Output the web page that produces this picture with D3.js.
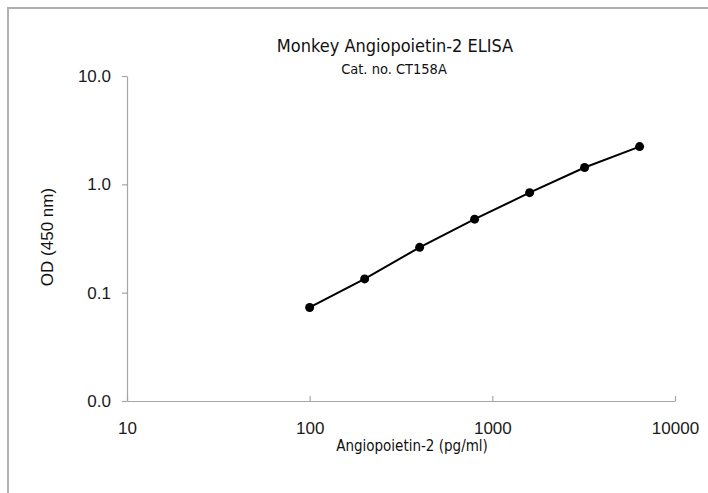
<!DOCTYPE html>
<html>
<head>
<meta charset="utf-8">
<script src="https://cdnjs.cloudflare.com/ajax/libs/d3/7.8.5/d3.min.js"></script>
<style>
  body { margin: 0; background: #fff; }
  .tick text { font-family: "Liberation Sans", Arial, sans-serif; font-size: 17px; fill: #1a1a1a; }
  .label { font-family: "DejaVu Sans Condensed", "DejaVu Sans", sans-serif; fill: #111; }
</style>
</head>
<body>
<div id="chart"></div>
<script>
// standard curve data
var concentrations = [100, 200, 400, 800, 1600, 3200, 6400];
var odValues = [0.073, 0.134, 0.262, 0.477, 0.838, 1.43, 2.23];
var xTicks = [10, 100, 1000, 10000];
var yTicks = [0.01, 0.1, 1, 10];

var svgWidth = 708, svgHeight = 493;
var margin = {top: 76, right: 33, bottom: 92, left: 127},
    width = svgWidth - margin.left - margin.right,
    height = svgHeight - margin.top - margin.bottom;

var svg = d3.select("#chart").append("svg")
    .attr("width", svgWidth)
    .attr("height", svgHeight);

// outer frame (top and left only visible)
svg.append("path")
    .attr("d", "M8," + svgHeight + "V8H" + svgWidth)
    .attr("fill", "none")
    .attr("stroke", "#b0b0b0")
    .attr("stroke-width", 2);

var g = svg.append("g")
    .attr("transform", "translate(" + margin.left + "," + margin.top + ")");

// set the ranges
var x = d3.scaleLog().domain([10, 10000]).range([0, width]);
var y = d3.scaleLog().domain([0.01, 10]).range([height, 0]);

// x axis
var xAxis = g.append("g")
    .attr("transform", "translate(0," + height + ")")
    .call(d3.axisBottom(x)
        .tickValues(xTicks)
        .tickFormat(d3.format("d"))
        .tickSizeOuter(0)
        .tickPadding(15));

// y axis
var yAxis = g.append("g")
    .call(d3.axisLeft(y)
        .tickValues(yTicks)
        .tickFormat(function(d) { return d3.format(".1f")(d); })
        .tickSizeOuter(0)
        .tickPadding(10));

g.selectAll(".domain").attr("stroke", "#a6a6a6").attr("stroke-width", 1.2);
g.selectAll(".tick line").attr("stroke", "#a6a6a6").attr("stroke-width", 1.2);
// x ticks point up into the plot, y ticks stick out left
xAxis.selectAll(".tick line").attr("y2", -5);
yAxis.selectAll(".tick line").attr("x2", -5);

// the curve
var valueline = d3.line()
    .x(function(d, i) { return x(concentrations[i]); })
    .y(function(d) { return y(d); });

g.append("path")
    .datum(odValues)
    .attr("fill", "none")
    .attr("stroke", "#000")
    .attr("stroke-width", 2)
    .attr("d", valueline);

g.selectAll(".dot")
    .data(odValues)
  .enter().append("circle")
    .attr("class", "dot")
    .attr("cx", function(d, i) { return x(concentrations[i]); })
    .attr("cy", function(d) { return y(d); })
    .attr("r", 4.5)
    .attr("fill", "#000");

// titles
svg.append("text")
    .attr("class", "label")
    .attr("x", 395)
    .attr("y", 52)
    .attr("text-anchor", "middle")
    .style("font-size", "18px")
    .text("Monkey Angiopoietin-2 ELISA");

svg.append("text")
    .attr("class", "label")
    .attr("x", 394)
    .attr("y", 74)
    .attr("text-anchor", "middle")
    .style("font-size", "14.5px")
    .text("Cat. no. CT158A");

// axis labels
svg.append("text")
    .attr("class", "label")
    .attr("x", 412)
    .attr("y", 451)
    .attr("text-anchor", "middle")
    .style("font-size", "15px")
    .text("Angiopoietin-2 (pg/ml)");

svg.append("text")
    .attr("transform", "rotate(-90)")
    .attr("x", -237)
    .attr("y", 53)
    .attr("text-anchor", "middle")
    .style("font-family", "'Liberation Sans', Arial, sans-serif")
    .style("font-size", "17px")
    .style("fill", "#111")
    .text("OD (450 nm)");
</script>
</body>
</html>
